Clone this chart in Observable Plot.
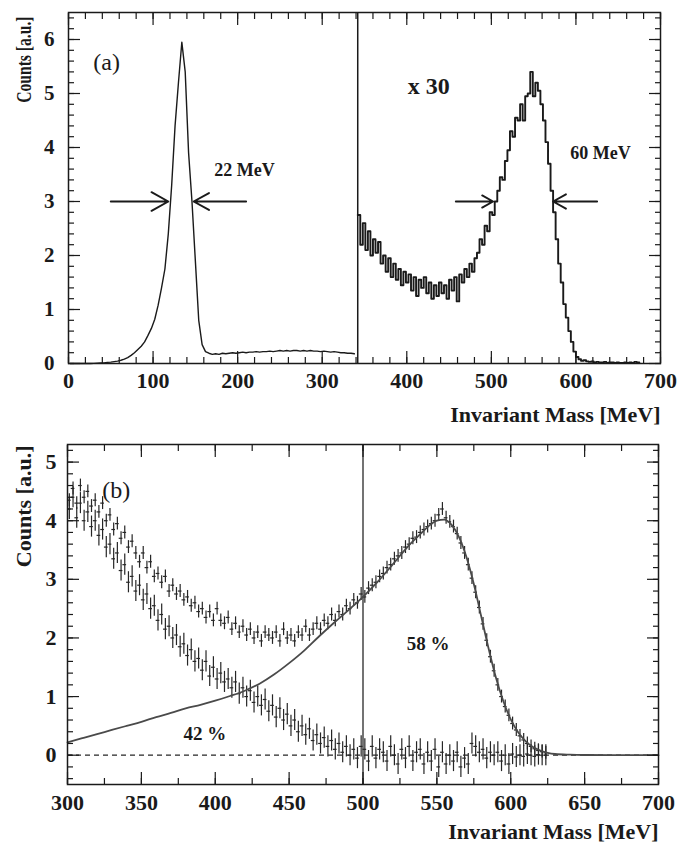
<!DOCTYPE html>
<html><head><meta charset="utf-8">
<script src="https://cdn.jsdelivr.net/npm/d3@7"></script>
<script src="https://cdn.jsdelivr.net/npm/@observablehq/plot@0.6"></script>
<style>
html,body{margin:0;padding:0;background:#fff}
body{width:690px;height:843px;position:relative;overflow:hidden}
#pa,#pb{position:absolute;left:0}
#pa{top:0}
#pb{top:420px}
svg{display:block}
</style></head><body><div id="pa"></div><div id="pb"></div>
<script>
// ---------------- Panel (a) data ----------------
// main spectrum, 4 MeV bins starting at 0 MeV
const aMainStart = 0;
const aMainBin = 4;
const aMainCounts = [0,0,0,0,0,0,0,0.002,0.005,0.008,0.012,0.02,0.025,0.035,0.045,0.06,0.08,0.11,0.15,0.2,
  0.26,0.32,0.4,0.52,0.65,0.82,1.08,1.4,1.75,2.4,3.3,4.4,5.2,5.95,5.4,3.9,3.0,1.9,0.8,0.35,
  0.22,0.19,0.17,0.18,0.17,0.19,0.18,0.19,0.2,0.19,0.2,0.21,0.2,0.21,0.21,0.22,0.21,0.22,0.22,0.23,
  0.22,0.23,0.24,0.23,0.24,0.23,0.24,0.24,0.23,0.24,0.23,0.24,0.23,0.23,0.22,0.23,0.22,0.21,0.22,0.21,
  0.2,0.2,0.19,0.19,0.18];
const aDivider = 342; // MeV, boundary of the "x 30" region
// x30 magnified spectrum, 3 MeV bins starting at 342 MeV
const aZoomStart = 342;
const aZoomBin = 3;
const aZoomCounts = [2.75,2.2,2.6,2.1,2.45,2.0,2.3,2.05,2.25,1.85,2.0,1.7,1.95,1.6,1.85,1.55,1.75,1.45,1.7,1.5,
  1.65,1.35,1.6,1.25,1.55,1.4,1.6,1.3,1.5,1.2,1.45,1.25,1.5,1.3,1.45,1.2,1.55,1.35,1.6,1.15,
  1.65,1.5,1.75,1.6,1.85,1.7,1.95,2.05,2.3,2.2,2.55,2.45,2.8,2.75,3.0,3.2,3.45,3.4,3.75,3.95,
  4.3,4.2,4.55,4.5,4.8,4.5,4.95,5.0,5.4,4.95,5.2,5.05,4.8,4.5,4.1,3.7,3.2,2.8,2.3,1.85,
  1.5,1.1,0.85,0.6,0.4,0.22,0.12,0.08,0.05,0.06,0.04,0.03,0.04,0.02,0.03,0.02,0.02,0.03,0.01,0.02,
  0.02,0.01,0.02,0.01,0.01,0.02,0.01,0.02,0.01,0.03,0.02];
const aXTicks = [0,100,200,300,400,500,600,700];
const aYTicks = [0,1,2,3,4,5,6];
// FWHM arrows [x1, x2] at half maximum
const aArrowX1 = [50, 210, 458, 625];
const aArrowX2 = [118, 148, 502, 573];
const aArrowY = 3;
const aNotesPlain = [{x: 45, y: 5.57, t: "(a)"}];
const aNotesBold = [
  {x: 208, y: 3.57, t: "22 MeV", s: 18},
  {x: 426, y: 5.13, t: "x 30", s: 24},
  {x: 629, y: 3.89, t: "60 MeV", s: 18}
];

// ---------------- Panel (b) data ----------------
const bStart = 300;
const bBin = 2.5;
const bTotal = [4.35,4.55,4.3,4.6,4.4,4.5,4.25,4.35,4.15,4.3,4.0,4.1,3.85,3.95,3.7,3.8,3.55,3.65,3.45,3.3,
  3.45,3.2,3.3,3.05,3.1,2.95,3.05,2.8,2.9,2.75,2.8,2.65,2.7,2.55,2.6,2.45,2.5,2.35,2.45,2.3,
  2.5,2.3,2.25,2.35,2.15,2.25,2.1,2.2,2.05,2.15,2.0,2.1,1.95,2.1,2.05,2.0,2.1,1.95,2.15,2.0,
  2.05,1.95,2.1,2.05,2.2,2.05,2.15,2.25,2.15,2.3,2.25,2.4,2.3,2.45,2.4,2.55,2.5,2.65,2.6,2.75,
  2.7,2.85,2.9,2.95,3.05,3.1,3.2,3.25,3.35,3.4,3.45,3.55,3.6,3.7,3.72,3.8,3.85,3.9,3.95,4.0,
  4.1,4.2,4.05,3.98,3.9,3.78,3.62,3.45,3.25,3.02,2.78,2.52,2.24,1.96,1.68,1.44,1.2,1.0,0.83,0.68,
  0.54,0.43,0.33,0.26,0.2,0.15,0.11,0.08,0.06,0.04];
const bDiff = [4.2,4.4,4.05,4.3,4.0,4.15,3.9,4.0,3.75,3.85,3.55,3.6,3.35,3.45,3.15,3.25,2.95,3.05,2.8,2.9,
  2.65,2.75,2.5,2.55,2.3,2.4,2.15,2.2,2.0,2.05,1.85,1.9,1.7,1.8,1.6,1.65,1.45,1.6,1.35,1.5,
  1.3,1.4,1.25,1.3,1.15,1.25,1.05,1.15,1.0,1.1,0.9,1.0,0.85,0.95,0.75,0.85,0.65,0.8,0.6,0.7,
  0.5,0.6,0.4,0.5,0.35,0.45,0.25,0.35,0.2,0.3,0.15,0.25,0.1,0.2,0.05,0.15,0.0,0.1,-0.05,0.15,
  0.1,-0.1,0.15,-0.05,0.1,0.05,-0.1,0.15,0.0,-0.15,0.1,-0.05,0.15,-0.1,0.05,0.1,-0.15,0.05,-0.1,0.1,
  -0.2,0.05,-0.15,0.0,-0.1,0.05,-0.2,-0.05,-0.15,0.2,0.15,0.05,0.1,-0.05,0.05,0.0,0.05,-0.1,0.0,-0.15,
  0.02,-0.03,0.0,-0.02,0.02,0.0,-0.02,0.01,0.0,0.0];
const bErrTotal = 0.11;
const bErrDiff = 0.18;
const fitMass = [300,310,320,330,340,350,360,370,380,390,400,410,420,430,440,450,460,470,480,490,500,510,520,530,540,545,550,555,560,565,570,575,580,585,590,595,600,605,610,615,620,625,630,640,650,670,700];
const fitCounts = [0.22,0.29,0.36,0.43,0.5,0.57,0.65,0.72,0.8,0.86,0.93,1.01,1.1,1.22,1.38,1.57,1.78,2.02,2.25,2.47,2.7,2.96,3.25,3.55,3.8,3.92,4.0,4.02,3.93,3.72,3.38,2.92,2.37,1.82,1.32,0.92,0.61,0.39,0.24,0.14,0.08,0.04,0.02,0.008,0.003,0.001,0];
const bXTicks = [300,350,400,450,500,550,600,650,700];
const bYTicks = [0,1,2,3,4,5];
const bCut = 500;
const bNotesPlain = [{x: 333, y: 4.51, t: "(b)"}];
const bNotesBold = [
  {x: 393, y: 0.36, t: "42 %"},
  {x: 544, y: 1.9, t: "58 %"}
];

const xLabel = "Invariant Mass [MeV]";
const yLabel = "Counts [a.u.]";

// ---------------- helpers ----------------
const INK = "#1a1a1a";
const FONT = "'Liberation Serif', 'DejaVu Serif', serif";
const fmt = d => String(d);
function centers(start, bin, counts) {
  return counts.map((v, i) => ({x: start + (i + 0.5) * bin, y: v}));
}
function steps(start, bin, counts) {
  const pts = counts.map((v, i) => ({x: start + i * bin, y: v}));
  pts.push({x: start + counts.length * bin, y: counts[counts.length - 1]});
  return pts;
}
function inwardTicks(xMajor, xMinor, yMajor, yMinor, len) {
  const common = {fill: "none", label: null, stroke: INK, strokeWidth: 1.2};
  return [
    Plot.axisX({...common, anchor: "bottom", ticks: xMajor, tickSize: -len}),
    Plot.axisX({...common, anchor: "bottom", ticks: xMinor, tickSize: -len / 2}),
    Plot.axisX({...common, anchor: "top", ticks: xMajor, tickSize: -len}),
    Plot.axisX({...common, anchor: "top", ticks: xMinor, tickSize: -len / 2}),
    Plot.axisY({...common, anchor: "left", ticks: yMajor, tickSize: -len}),
    Plot.axisY({...common, anchor: "left", ticks: yMinor, tickSize: -len / 2}),
    Plot.axisY({...common, anchor: "right", ticks: yMajor, tickSize: -len}),
    Plot.axisY({...common, anchor: "right", ticks: yMinor, tickSize: -len / 2})
  ];
}

// ---------------- Panel (a) ----------------
const aMain = centers(aMainStart, aMainBin, aMainCounts);
const aZoom = steps(aZoomStart, aZoomBin, aZoomCounts);
const arrows = aArrowX1.map((x1, i) => ({x1, x2: aArrowX2[i], y: aArrowY}));

const plotA = Plot.plot({
  width: 690, height: 430,
  marginTop: 12, marginBottom: 67, marginLeft: 68, marginRight: 30,
  style: {fontFamily: FONT, background: "transparent", color: INK},
  x: {domain: [0, 700]},
  y: {domain: [0, 6.5]},
  marks: [
    Plot.line(aMain, {x: "x", y: "y", curve: "linear", stroke: INK, strokeWidth: 1.4}),
    Plot.line(aZoom, {x: "x", y: "y", curve: "step-after", stroke: INK, strokeWidth: 1.9}),
    Plot.ruleX([aDivider], {stroke: INK, strokeWidth: 1.5}),
    Plot.arrow(arrows, {x1: "x1", x2: "x2", y1: "y", y2: "y", stroke: INK, strokeWidth: 2, headLength: 19, headAngle: 58}),
    Plot.text(aNotesPlain, {x: "x", y: "y", text: "t", fontSize: 24, fill: INK}),
    Plot.text(aNotesBold, {x: "x", y: "y", text: "t", fontSize: "s", fontWeight: "bold", fill: INK}),
    ...inwardTicks(aXTicks, d3.range(0, 701, 20), aYTicks, d3.range(0, 6.5, 0.2), 12),
    Plot.axisX({anchor: "bottom", ticks: aXTicks, tickFormat: fmt, tickSize: 0, tickPadding: 9, label: null, fontSize: 22, fontWeight: "bold", fill: INK}),
    Plot.axisY({anchor: "left", ticks: aYTicks, tickFormat: fmt, tickSize: 0, tickPadding: 14, label: null, fontSize: 21, fontWeight: "bold", fill: INK}),
    Plot.text([xLabel], {text: d => d, frameAnchor: "bottom-right", textAnchor: "end", lineAnchor: "bottom", dy: 58, fontSize: 22, fontWeight: "bold", fill: INK}),
    Plot.text([yLabel], {text: d => d, frameAnchor: "top-left", textAnchor: "end", lineAnchor: "middle", rotate: -90, dx: -45, dy: 4, fontSize: 22, fontWeight: "bold", fill: INK}),
    Plot.frame({stroke: INK, strokeWidth: 1.5})
  ]
});
document.getElementById("pa").appendChild(plotA);
// the upper panel's axis title is vertically compressed in the original figure
d3.select(plotA).selectAll("text").filter(function () { return this.textContent === yLabel; })
  .each(function () {
    const t = this.getAttribute("transform") || "";
    this.setAttribute("transform", t + " scale(0.71,1)");
  });

// ---------------- Panel (b) ----------------
const GRAY = "#262626";
const bPts = (vals, err) => vals.map((v, i) => {
  const c = bStart + (i + 0.5) * bBin;
  return {x: c, xa: c - bBin / 2, xb: c + bBin / 2, y: v, lo: v - err, hi: v + err};
});
const tot = bPts(bTotal, bErrTotal);
const dif = bPts(bDiff, bErrDiff);
const fit = fitMass.map((m, i) => ({x: m, y: fitCounts[i]}));

const plotB = Plot.plot({
  width: 690, height: 423,
  marginTop: 24, marginBottom: 59, marginLeft: 67, marginRight: 32,
  style: {fontFamily: FONT, background: "transparent", color: INK},
  x: {domain: [300, 700]},
  y: {domain: [-0.5, 5.3]},
  marks: [
    Plot.ruleY([0], {stroke: GRAY, strokeWidth: 1.2, strokeDasharray: "5,4"}),
    Plot.ruleX([bCut], {stroke: "#444", strokeWidth: 1.5}),
    Plot.ruleX(dif, {x: "x", y1: "lo", y2: "hi", stroke: GRAY, strokeWidth: 1.2}),
    Plot.ruleY(dif, {y: "y", x1: "xa", x2: "xb", stroke: GRAY, strokeWidth: 1.2}),
    Plot.ruleX(tot, {x: "x", y1: "lo", y2: "hi", stroke: GRAY, strokeWidth: 1.2}),
    Plot.ruleY(tot, {y: "y", x1: "xa", x2: "xb", stroke: GRAY, strokeWidth: 1.2}),
    Plot.line(fit, {x: "x", y: "y", curve: "monotone-x", stroke: "#4a4a4a", strokeWidth: 1.8}),
    Plot.text(bNotesPlain, {x: "x", y: "y", text: "t", fontSize: 24, fill: INK}),
    Plot.text(bNotesBold, {x: "x", y: "y", text: "t", fontSize: 19, fontWeight: "bold", fill: INK}),
    ...inwardTicks(bXTicks, d3.range(300, 701, 25), bYTicks, d3.range(-0.4, 5.3, 0.2), 12),
    Plot.axisX({anchor: "bottom", ticks: bXTicks, tickFormat: fmt, tickSize: 0, tickPadding: 10, label: null, fontSize: 22, fontWeight: "bold", fill: INK}),
    Plot.axisY({anchor: "left", ticks: bYTicks, tickFormat: fmt, tickSize: 0, tickPadding: 11, label: null, fontSize: 22, fontWeight: "bold", fill: INK}),
    Plot.text([xLabel], {text: d => d, frameAnchor: "bottom-right", textAnchor: "end", lineAnchor: "bottom", dy: 54, fontSize: 22, fontWeight: "bold", fill: INK}),
    Plot.text([yLabel], {text: d => d, frameAnchor: "top-left", textAnchor: "end", lineAnchor: "middle", rotate: -90, dx: -44, dy: 1, fontSize: 22, fontWeight: "bold", fill: INK}),
    Plot.frame({stroke: INK, strokeWidth: 1.5})
  ]
});
document.getElementById("pb").appendChild(plotB);
</script>
</body></html>
